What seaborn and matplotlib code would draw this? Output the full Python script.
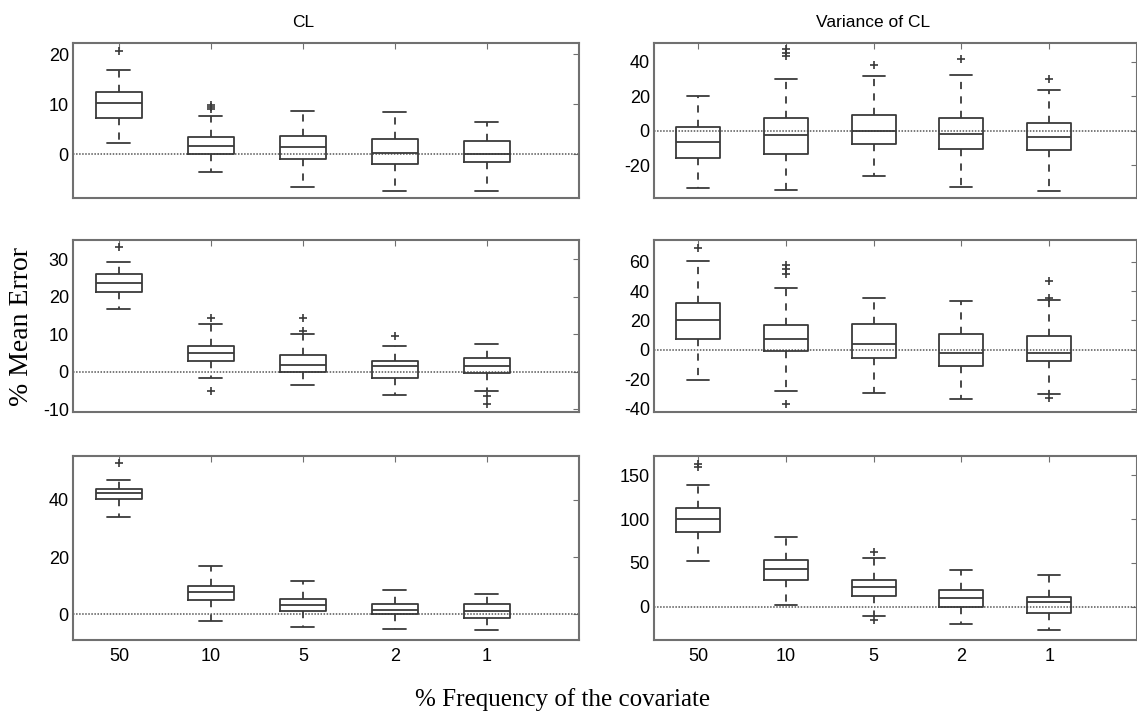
import numpy as np
import pandas as pd
import seaborn as sns
import matplotlib.pyplot as plt

freq_labels = ["50", "10", "5", "2", "1"]

# per frequency: lower whisker, q1, median, q3, upper whisker
cl_row1 = [[2.2, 7.2, 10.2, 12.4, 16.9],
           [-3.6, 0.1, 1.6, 3.5, 7.7],
           [-6.5, -1.0, 1.5, 3.7, 8.6],
           [-7.3, -1.9, 0.3, 3.0, 8.4],
           [-7.3, -1.6, 0.1, 2.7, 6.5]]
cl_row1_out = [[20.7], [9.8, 9.4, 9.0], [], [], []]

var_row1 = [[-33.3, -15.8, -6.6, 2.5, 20.1],
            [-34.5, -13.6, -2.5, 7.4, 30.2],
            [-26.1, -7.4, -0.2, 9.4, 32.0],
            [-32.9, -10.7, -1.9, 7.2, 32.7],
            [-34.9, -11.3, -3.5, 4.5, 23.6]]
var_row1_out = [[], [47.4, 45.4, 43.5], [38.0], [41.5], [30.2]]

cl_row2 = [[16.8, 21.4, 23.6, 26.0, 29.2],
           [-1.6, 2.8, 5.0, 7.0, 12.7],
           [-3.5, 0.0, 1.9, 4.4, 10.1],
           [-6.1, -1.5, 1.5, 3.0, 6.8],
           [-5.0, -0.4, 1.5, 3.6, 7.4]]
cl_row2_out = [[33.2], [14.3, -5.0], [14.3, 10.9], [9.5], [-6.4, -8.6]]

var_row2 = [[-20.2, 7.7, 20.5, 31.8, 60.5],
            [-28.0, -1.1, 7.7, 17.0, 42.0],
            [-29.3, -5.5, 4.1, 17.3, 35.5],
            [-33.4, -10.7, -2.0, 10.5, 33.0],
            [-30.0, -7.3, -2.3, 9.3, 34.1]]
var_row2_out = [[69.3], [57.7, 55.0, 51.6, -37.0], [], [], [47.0, 35.5, -32.7]]

cl_row3 = [[34.2, 40.2, 42.3, 44.0, 47.1],
           [-2.3, 4.8, 7.6, 9.8, 17.0],
           [-4.4, 1.2, 3.2, 5.4, 11.7],
           [-5.1, 0.0, 1.5, 3.7, 8.5],
           [-5.7, -1.3, 1.1, 3.4, 6.9]]
cl_row3_out = [[52.9], [], [], [], []]

var_row3 = [[52.8, 84.9, 100.0, 112.5, 138.9],
            [1.9, 30.9, 43.4, 53.6, 79.2],
            [-10.6, 12.5, 22.6, 30.2, 56.2],
            [-19.6, -0.4, 10.6, 19.2, 42.3],
            [-26.4, -7.2, 5.7, 11.7, 36.6]]
var_row3_out = [[162.0, 159.6], [], [62.6, -15.0], [], []]


def long_frame(groups):
    rows = []
    for lab, vals in zip(freq_labels, groups):
        for v in vals:
            rows.append((lab, v))
    return pd.DataFrame(rows, columns=["freq", "value"])


sns.set_style("white")
plt.rcParams["font.family"] = ["Liberation Sans", "DejaVu Sans"]
plt.rcParams["axes.unicode_minus"] = False
plt.rcParams["text.color"] = "black"
plt.rcParams["xtick.labelcolor"] = "black"
plt.rcParams["ytick.labelcolor"] = "black"

line_col = "#3a3a3a"
frame_col = "#707070"

fig = plt.figure(figsize=(11.37, 7.14), dpi=100)

# left, bottom, width, height (figure fractions)
col_x = [(0.0642, 0.445), (0.5752, 0.4248)]
row_y = [(0.7227, 0.2171), (0.4230, 0.2409), (0.1043, 0.2570)]

panels = [
    (0, 0, cl_row1, cl_row1_out, (-8.7, 22.3), [0, 10, 20]),
    (0, 1, var_row1, var_row1_out, (-39, 51), [-20, 0, 20, 40]),
    (1, 0, cl_row2, cl_row2_out, (-10.7, 35.2), [-10, 0, 10, 20, 30]),
    (1, 1, var_row2, var_row2_out, (-42.3, 74.8), [-40, -20, 0, 20, 40, 60]),
    (2, 0, cl_row3, cl_row3_out, (-8.9, 55.4), [0, 20, 40]),
    (2, 1, var_row3, var_row3_out, (-37, 171.6), [0, 50, 100, 150]),
]

for r, c, stats, outs, ylim, yticks in panels:
    ax = fig.add_axes([col_x[c][0], row_y[r][0], col_x[c][1], row_y[r][1]])
    ax.axhline(0, color="#555555", lw=1.1, ls=(0, (1, 1)), zorder=1)
    sns.boxplot(data=long_frame(stats), x="freq", y="value", order=freq_labels,
                ax=ax, whis=(0, 100), width=0.5, fill=False, color=line_col,
                linewidth=1.3, showfliers=False, capwidths=0.25,
                whiskerprops=dict(linestyle=(0, (4, 4))))
    out_df = long_frame(outs)
    if len(out_df):
        sns.stripplot(data=out_df, x="freq", y="value", order=freq_labels,
                      ax=ax, jitter=False, marker="+", color=line_col,
                      size=6, linewidth=1.2)
    ax.set_xlim(-0.5, 5.0)
    ax.set_ylim(*ylim)
    ax.set_yticks(yticks)
    ax.set_xlabel("")
    ax.set_ylabel("")
    ax.tick_params(direction="in", top=True, right=True, length=4,
                   color=frame_col, labelsize=13, pad=3)
    if r < 2:
        ax.tick_params(labelbottom=False)
    else:
        ax.tick_params(axis="x", pad=6)
    for sp in ax.spines.values():
        sp.set_color(frame_col)
        sp.set_linewidth(1.5)
    if r == 0:
        ax.text(2, 1.135, "CL" if c == 0 else "Variance of CL",
                transform=ax.get_xaxis_transform(), ha="center", va="center",
                fontsize=12.5)

fig.text(0.019, 0.543, "% Mean Error", rotation=90, ha="center", va="center",
         fontsize=20, family="Liberation Serif")
fig.text(0.495, 0.02, "% Frequency of the covariate", ha="center", va="center",
         fontsize=18, family="Liberation Serif")

fig.savefig("out.png", dpi=100)
